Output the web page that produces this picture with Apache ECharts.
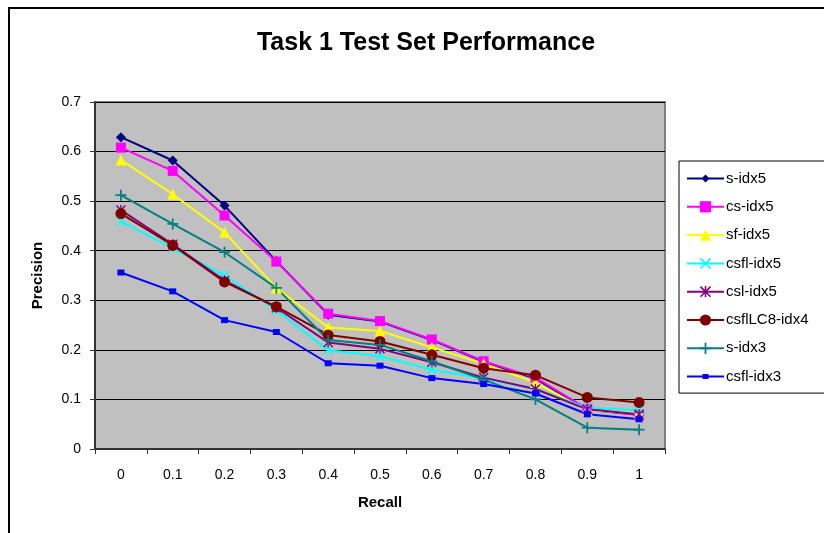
<!DOCTYPE html>
<html>
<head>
<meta charset="utf-8">
<script src="https://cdn.jsdelivr.net/npm/echarts@6/dist/echarts.min.js"></script>
<style>
html,body{margin:0;padding:0;background:#fff;}
#main{width:824px;height:533px;}
</style>
</head>
<body>
<div id="main"></div>
<script>
const categories = ['0','0.1','0.2','0.3','0.4','0.5','0.6','0.7','0.8','0.9','1'];
const yTicks = [0, 0.1, 0.2, 0.3, 0.4, 0.5, 0.6, 0.7];

const sIdx5      = [0.629, 0.582, 0.491, 0.379, 0.271, 0.257, 0.220, 0.176, 0.142, 0.079, 0.069];
const csIdx5     = [0.608, 0.561, 0.471, 0.378, 0.273, 0.258, 0.221, 0.177, 0.144, 0.081, 0.068];
const sfIdx5     = [0.583, 0.514, 0.437, 0.325, 0.245, 0.238, 0.205, 0.172, 0.134, 0.078, 0.072];
const csflIdx5   = [0.459, 0.405, 0.350, 0.280, 0.199, 0.187, 0.160, 0.142, 0.121, 0.083, 0.078];
const cslIdx5    = [0.482, 0.413, 0.340, 0.285, 0.215, 0.202, 0.175, 0.144, 0.121, 0.080, 0.070];
const csflLC8Idx4= [0.475, 0.411, 0.337, 0.287, 0.230, 0.217, 0.190, 0.163, 0.149, 0.104, 0.094];
const sIdx3      = [0.512, 0.454, 0.397, 0.325, 0.220, 0.210, 0.177, 0.140, 0.100, 0.043, 0.039];
const csflIdx3   = [0.356, 0.318, 0.260, 0.236, 0.173, 0.168, 0.143, 0.131, 0.112, 0.070, 0.060];

const seriesNames = ['s-idx5','cs-idx5','sf-idx5','csfl-idx5','csl-idx5','csflLC8-idx4','s-idx3','csfl-idx3'];

const X_PATH = 'path://M1,0 L5,4 L9,0 L10,1 L6,5 L10,9 L9,10 L5,6 L1,10 L0,9 L4,5 L0,1 Z';
const STAR_PATH = 'path://M1,0 L5,4 L9,0 L10,1 L6,5 L10,9 L9,10 L5,6 L1,10 L0,9 L4,5 L0,1 Z M4.3,0 L5.7,0 L5.7,10 L4.3,10 Z';
const PLUS_PATH = 'path://M4.2,0 L5.8,0 L5.8,4.2 L10,4.2 L10,5.8 L5.8,5.8 L5.8,10 L4.2,10 L4.2,5.8 L0,5.8 L0,4.2 L4.2,4.2 Z';

// legend icons (line + smaller marker) for a 37x14 icon box
const ICON_FRAME = 'M0,0 L0.02,0 L0,0.02 Z M37,14 L36.98,14 L37,13.98 Z M0,6 L37,6 L37,8 L0,8 Z ';
const LEG_DIAMOND = 'path://' + ICON_FRAME + 'M18.5,3 L22.5,7 L18.5,11 L14.5,7 Z';
const LEG_SMALLSQ = 'path://' + ICON_FRAME + 'M15.5,4.5 L21.5,4.5 L21.5,9.5 L15.5,9.5 Z';

const styles = [
  {data: sIdx5,       color: '#000080', symbol: 'diamond',  size: 10, icon: LEG_DIAMOND},
  {data: csIdx5,      color: '#FF00FF', symbol: 'rect',     size: 10},
  {data: sfIdx5,      color: '#FFFF00', symbol: 'triangle', size: 11},
  {data: csflIdx5,    color: '#00FFFF', symbol: X_PATH,     size: 10},
  {data: cslIdx5,     color: '#800080', symbol: STAR_PATH,  size: 10},
  {data: csflLC8Idx4, color: '#800000', symbol: 'circle',   size: 11},
  {data: sIdx3,       color: '#008080', symbol: PLUS_PATH,  size: 11},
  {data: csflIdx3,    color: '#0000FF', symbol: 'rect',     size: [7,6], icon: LEG_SMALLSQ}
];

const FONT = 'Liberation Sans, Arial, sans-serif';

const chart = echarts.init(document.getElementById('main'), null, {renderer: 'canvas'});
chart.setOption({
  animation: false,
  backgroundColor: '#ffffff',
  graphic: [{
    type: 'rect',
    shape: {x: 9, y: 8, width: 900, height: 600},
    style: {fill: 'none', stroke: '#000', lineWidth: 2},
    silent: true, z: 100
  }],
  title: {
    text: 'Task 1 Test Set Performance',
    left: 421, top: 26, textAlign: 'center',
    textStyle: {fontFamily: FONT, fontWeight: 'bold', fontSize: 25, color: '#000'}
  },
  legend: {
    orient: 'vertical',
    left: 679, top: 161,
    padding: [10, 30, 9, 7],
    itemGap: 13.3,
    itemWidth: 37, itemHeight: 14,
    borderColor: '#000', borderWidth: 1,
    backgroundColor: '#fff',
    textStyle: {fontFamily: FONT, fontSize: 15, lineHeight: 14, color: '#000', padding: [0,0,0,-3]},
    data: seriesNames.map(function (n, i) {
      return styles[i].icon ? {name: n, icon: styles[i].icon} : {name: n};
    })
  },
  grid: {
    left: 95, right: 159, top: 102, bottom: 84,
    show: true, backgroundColor: '#c0c0c0', borderColor: '#808080', borderWidth: 2,
    containLabel: false
  },
  xAxis: {
    type: 'category',
    data: categories,
    boundaryGap: true,
    name: 'Recall',
    nameLocation: 'middle',
    nameGap: 46,
    nameTextStyle: {fontFamily: FONT, fontWeight: 'bold', fontSize: 15, color: '#000'},
    axisLine: {show: true, lineStyle: {color: '#333', width: 2}},
    axisTick: {show: true, inside: false, length: 5, interval: 0, lineStyle: {color: '#333', width: 1}},
    axisLabel: {fontFamily: FONT, fontSize: 14, color: '#000', margin: 19, interval: 0},
    splitLine: {show: false}
  },
  yAxis: {
    type: 'value',
    min: 0, max: 0.7, interval: 0.1,
    name: 'Precision',
    nameLocation: 'middle',
    nameGap: 50,
    nameTextStyle: {fontFamily: FONT, fontWeight: 'bold', fontSize: 15, color: '#000'},
    axisLine: {show: true, lineStyle: {color: '#333', width: 2}},
    axisTick: {show: true, inside: false, length: 5, lineStyle: {color: '#333', width: 1}},
    axisLabel: {
      fontFamily: FONT, fontSize: 14, color: '#000', margin: 14,
      formatter: function (v) {
        const t = yTicks.find(function (k) { return Math.abs(k - v) < 1e-9; });
        return t === undefined ? '' : String(t);
      }
    },
    splitLine: {show: true, lineStyle: {color: '#000', width: 1}}
  },
  series: styles.map(function (s, i) {
    return {
      name: seriesNames[i],
      type: 'line',
      data: s.data,
      symbol: s.symbol,
      symbolSize: s.size,
      showAllSymbol: true,
      lineStyle: {color: s.color, width: 2},
      itemStyle: {color: s.color, borderColor: s.color, borderWidth: 0},
      emphasis: {disabled: true}
    };
  })
});
</script>
</body>
</html>
